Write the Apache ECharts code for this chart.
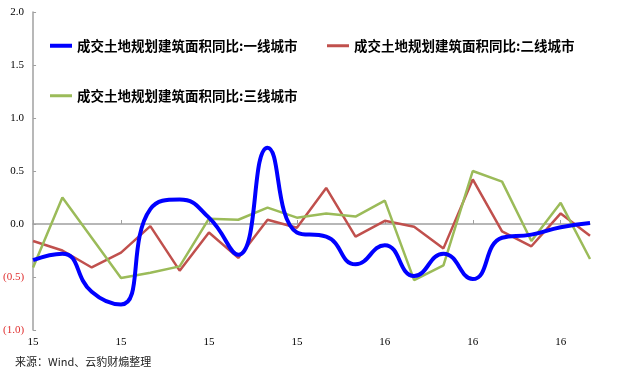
<!DOCTYPE html>
<html>
<head>
<meta charset="utf-8">
<script src="https://cdn.jsdelivr.net/npm/echarts@6/dist/echarts.min.js"></script>
<style>
html,body{margin:0;padding:0;background:#fff;}
#c{width:640px;height:384px;}
</style>
</head>
<body>
<div id="c"></div>
<script>
var categories = ['2015-01','2015-02','2015-03','2015-04','2015-05','2015-06','2015-07','2015-08','2015-09','2015-10',
                  '2015-11','2015-12','2016-01','2016-02','2016-03','2016-04','2016-05','2016-06','2016-07','2016-08'];
var seriesNames = ['成交土地规划建筑面积同比:一线城市','成交土地规划建筑面积同比:二线城市','成交土地规划建筑面积同比:三线城市'];
var tier1 = [-0.34,-0.28,-0.64,-0.76,0.14,0.23,0.06,-0.29,0.72,-0.08,-0.12,-0.38,-0.20,-0.49,-0.28,-0.52,-0.13,-0.10,-0.03,0.01];
var tier2 = [-0.16,-0.25,-0.41,-0.27,-0.02,-0.44,-0.08,-0.32,0.04,-0.035,0.34,-0.12,0.03,-0.025,-0.23,0.42,-0.07,-0.21,0.10,-0.11];
var tier3 = [-0.41,0.25,-0.13,-0.51,-0.46,-0.40,0.05,0.04,0.155,0.06,0.10,0.07,0.22,-0.53,-0.39,0.50,0.40,-0.16,0.20,-0.33];
var yTicks = {min:-1, max:2, step:0.5};
var sourceText = '来源：Wind、云豹财煽整理';

var chart = echarts.init(document.getElementById('c'));
var legendText = {fontFamily:'"Noto Sans CJK SC"', fontSize:13.5, fontWeight:'bold', color:'#000'};
chart.setOption({
  animation:false,
  backgroundColor:'#fff',
  grid:{left:30, right:50, top:12, bottom:54},
  legend:[
    {data:[seriesNames[0]], left:50, top:39, icon:'rect', itemWidth:22, itemHeight:4, itemGap:0, textStyle:legendText, padding:0},
    {data:[seriesNames[1]], left:327, top:39, icon:'rect', itemWidth:22, itemHeight:3, itemGap:0, textStyle:legendText, padding:0},
    {data:[seriesNames[2]], left:50, top:89, icon:'rect', itemWidth:22, itemHeight:3, itemGap:0, textStyle:legendText, padding:0}
  ],
  graphic:[{type:'text', left:15, top:356, style:{text:sourceText, fontFamily:'"Noto Sans CJK SC"', fontSize:11, fill:'#222'}}],
  xAxis:{
    type:'category', data:categories, boundaryGap:false,
    axisLine:{lineStyle:{color:'#a0a0a0', width:1.5}},
    axisTick:{inside:true, length:4, interval:2, lineStyle:{color:'#a0a0a0'}},
    axisLabel:{interval:2, margin:7, fontFamily:'"Liberation Serif"', fontSize:11, color:'#000',
      formatter:function(v){return v.slice(2,4);}}
  },
  yAxis:{
    type:'value', min:yTicks.min, max:yTicks.max, interval:yTicks.step,
    splitLine:{show:false},
    axisLine:{show:true, lineStyle:{color:'#a0a0a0', width:1.5}},
    axisTick:{show:true, inside:true, length:3, lineStyle:{color:'#a0a0a0'}},
    axisLabel:{margin:9, fontFamily:'"Liberation Serif"', fontSize:11,
      formatter:function(v){ return v<0 ? '{n|('+Math.abs(v).toFixed(1)+')}' : '{p|'+v.toFixed(1)+'}'; },
      rich:{n:{color:'#e03030', fontFamily:'"Liberation Serif"', fontSize:11}, p:{color:'#000', fontFamily:'"Liberation Serif"', fontSize:11}}
    }
  },
  series:[
    {name:seriesNames[0], type:'line', data:tier1, smooth:0.5, showSymbol:false, symbol:'none', z:3,
      lineStyle:{color:'#0000ff', width:4}, itemStyle:{color:'#0000ff'}},
    {name:seriesNames[1], type:'line', data:tier2, showSymbol:false, symbol:'none', z:2,
      lineStyle:{color:'#c0504d', width:2.5}, itemStyle:{color:'#c0504d'}},
    {name:seriesNames[2], type:'line', data:tier3, showSymbol:false, symbol:'none', z:2,
      lineStyle:{color:'#9bbb59', width:2.5}, itemStyle:{color:'#9bbb59'}}
  ]
});
</script>
</body>
</html>
